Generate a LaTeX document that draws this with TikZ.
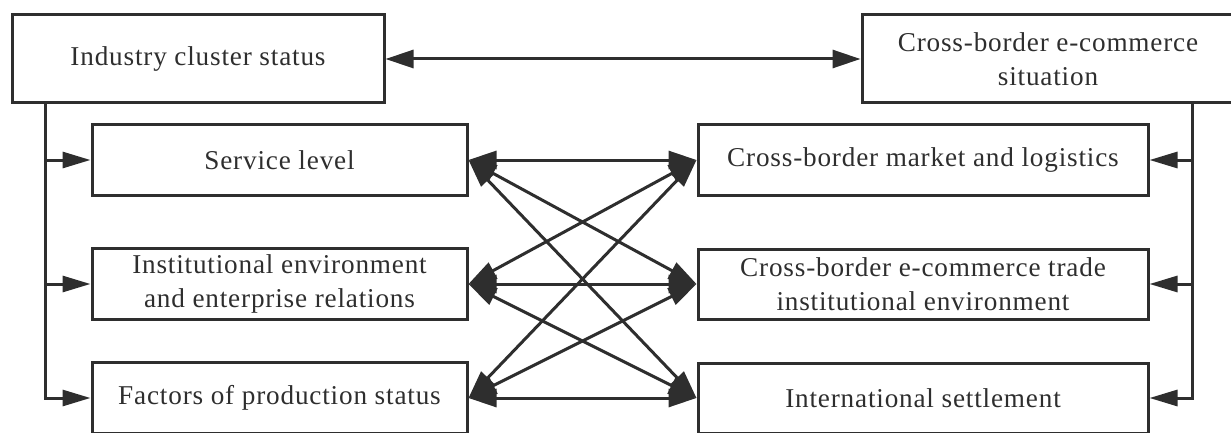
\documentclass[tikz,border=0pt]{standalone}
\usepackage{fontspec}
\setmainfont[LetterSpace=3]{Liberation Serif}
\usetikzlibrary{arrows.meta,positioning}
\definecolor{ink}{HTML}{2E2E2E}
\tikzset{
  block/.style={
    shape = rectangle,
    draw = ink,
    line width = 1.5pt,
    inner sep = 0pt,
    align = center,
    text = ink,
    font = \fontsize{13.6}{17.2}\selectfont
  },
  topbox/.style={block, minimum width = 186pt, minimum height = 44pt},
  leftbox/.style={block, minimum width = 187.5pt, minimum height = 35.5pt},
  rightbox/.style={block, minimum width = 225pt, minimum height = 35pt},
  link/.style={
    draw = ink,
    line width = 1.5pt,
    {Triangle[length=14pt,width=9pt]}-{Triangle[length=14pt,width=9pt]}
  },
  feed/.style={
    draw = ink,
    line width = 1.5pt,
    -{Triangle[length=14pt,width=8pt]}
  },
}

\begin{document}
\begin{tikzpicture}[x=0.5pt,y=-0.5pt]
    \def\xl{279.5}
    \def\xr{923}
    \def\ya{160}
    \def\yb{284}
    \def\yc{398}
    \useasboundingbox (0,0) rectangle (1231,433);
    \clip (0,0) rectangle (1231,433);
    % top row
    \node[topbox] (ics) at (198,59) {Industry cluster status};
    \node[topbox] (ces) at (1048,59) {Cross-border e-commerce\\situation};
    % left column
    \node[leftbox] (sl)  at (\xl,\ya) {Service level};
    \node[leftbox] (iee) at (\xl,\yb) {Institutional environment\\and enterprise relations};
    \node[leftbox] (fps) at (\xl,\yc) {Factors of production status};
    % right column
    \node[rightbox] (cml) at (\xr,\ya) {Cross-border market and logistics};
    \node[rightbox] (cet) at (\xr,\yb) {Cross-border e-commerce trade\\institutional environment};
    \node[rightbox] (ins) at (\xr,\yc) {International settlement};
    \draw[link] (ics) -- (ces);
    % branches
    \coordinate (ltop) at (45,103);
    \coordinate (rtop) at (1192,103);
    \draw[feed] (ltop) |- (fps.west);
    \draw[feed] (ltop |- sl.west) -- (sl.west);
    \draw[feed] (ltop |- iee.west) -- (iee.west);
    \draw[feed] (rtop) |- (ins.east);
    \draw[feed] (rtop |- cml.east) -- (cml.east);
    \draw[feed] (rtop |- cet.east) -- (cet.east);
    \foreach \a in {sl,iee,fps}{
    \foreach \b in {cml,cet,ins}{
    \draw[link] (\a.east) -- (\b.west);};}
\end{tikzpicture}
\end{document}
